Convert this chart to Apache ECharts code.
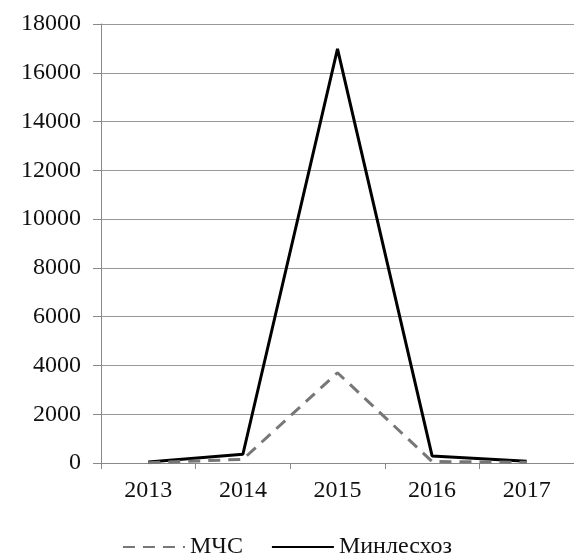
<!DOCTYPE html>
<html><head><meta charset="utf-8">
<script src="https://cdn.jsdelivr.net/npm/echarts@6/dist/echarts.min.js"></script>
<style>html,body{margin:0;padding:0;background:#fff}#c{width:574px;height:558px}</style>
</head><body><div id="c"></div>
<script>
const years = ['2013','2014','2015','2016','2017'];
const mchs = [10, 150, 3700, 60, 30];
const minleshoz = [40, 360, 16980, 290, 70];
const yTicks = {min:0, max:18000, interval:2000};
const font = 'Liberation Serif';
const chart = echarts.init(document.getElementById('c'));
chart.setOption({
  animation:false,
  grid:{left:101, right:-8, top:24, bottom:95, containLabel:false},
  legend:{bottom:-6, left:'center', itemWidth:62, itemHeight:14, itemGap:28,
    itemStyle:{opacity:0},
    textStyle:{fontFamily:font, fontSize:24, color:'#111'},
    data:['МЧС','Минлесхоз']},
  xAxis:{type:'category', data:years, boundaryGap:true,
    axisLine:{lineStyle:{color:'#888', width:1}},
    axisTick:{show:true, length:6, lineStyle:{color:'#888'}},
    axisLabel:{fontFamily:font, fontSize:24, color:'#111', margin:16}},
  yAxis:{type:'value', min:yTicks.min, max:yTicks.max, interval:yTicks.interval,
    axisLine:{show:true, lineStyle:{color:'#888'}},
    axisTick:{show:true, length:8, lineStyle:{color:'#888'}},
    splitLine:{lineStyle:{color:'#999', width:1}},
    axisLabel:{fontFamily:font, fontSize:24, color:'#111', margin:20, formatter:v=>String(v)}},
  series:[
    {name:'МЧС', type:'line', data:mchs, symbol:'none', z:3,
      lineStyle:{color:'#777', width:3, type:[12,8]}, itemStyle:{color:'#777'}},
    {name:'Минлесхоз', type:'line', data:minleshoz, symbol:'none', z:2,
      lineStyle:{color:'#000', width:3}, itemStyle:{color:'#000'}}
  ]
});
</script></body></html>
